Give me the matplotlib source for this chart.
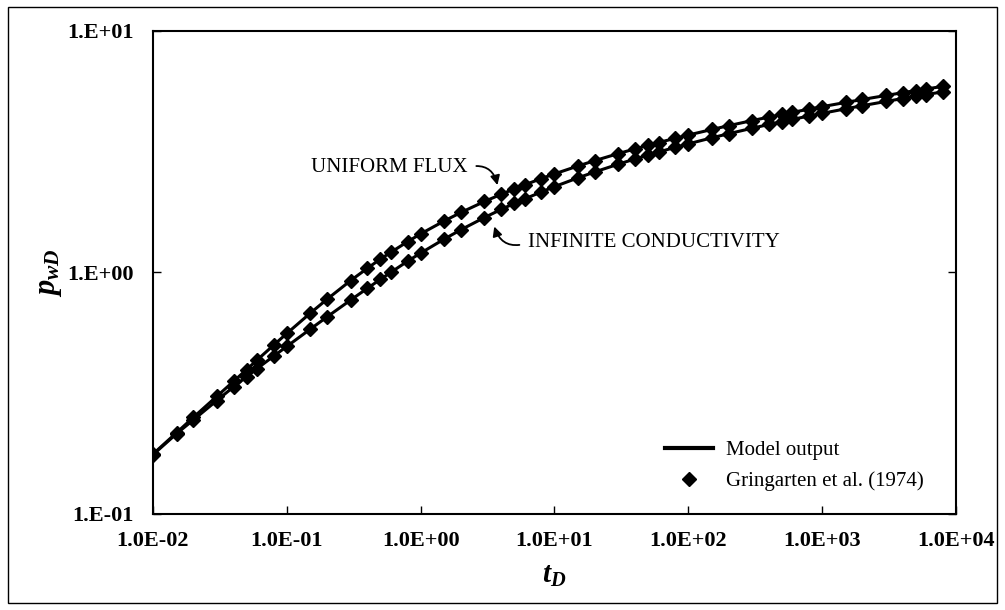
import numpy as np
import matplotlib
matplotlib.use('Agg')
import matplotlib.pyplot as plt
from matplotlib.lines import Line2D
from matplotlib.patches import Rectangle

plt.rcParams['font.family'] = ['Liberation Serif', 'DejaVu Serif']
plt.rcParams['mathtext.fontset'] = 'custom'
plt.rcParams['mathtext.it'] = 'Liberation Serif:italic:bold'
plt.rcParams['mathtext.rm'] = 'Liberation Serif:bold'

# dimensionless time
tD = [0.01, 0.015, 0.02, 0.03, 0.04, 0.05, 0.06, 0.08,
      0.1, 0.15, 0.2, 0.3, 0.4, 0.5, 0.6, 0.8,
      1, 1.5, 2, 3, 4, 5, 6, 8,
      10, 15, 20, 30, 40, 50, 60, 80,
      100, 150, 200, 300, 400, 500, 600, 800,
      1000, 1500, 2000, 3000, 4000, 5000, 6000, 8000]

# uniform flux fracture
pwd_uniform = [0.177, 0.217, 0.251, 0.307, 0.354, 0.396, 0.434, 0.501,
               0.559, 0.679, 0.775, 0.926, 1.041, 1.136, 1.213, 1.342,
               1.445, 1.634, 1.772, 1.968, 2.108, 2.218, 2.307, 2.450,
               2.560, 2.761, 2.905, 3.107, 3.250, 3.361, 3.452, 3.596,
               3.708, 3.910, 4.054, 4.257, 4.400, 4.512, 4.603, 4.747,
               4.859, 5.061, 5.205, 5.408, 5.552, 5.663, 5.754, 5.898]

# infinite conductivity fracture
pwd_infinite = [0.176, 0.215, 0.245, 0.295, 0.336, 0.370, 0.400, 0.451,
                0.494, 0.583, 0.655, 0.769, 0.860, 0.936, 1.002, 1.114,
                1.203, 1.375, 1.503, 1.689, 1.825, 1.931, 2.017, 2.157,
                2.267, 2.466, 2.608, 2.809, 2.952, 3.063, 3.154, 3.298,
                3.409, 3.611, 3.755, 3.957, 4.101, 4.213, 4.304, 4.448,
                4.559, 4.762, 4.906, 5.108, 5.252, 5.364, 5.455, 5.599]

xticks = [1e-2, 1e-1, 1e0, 1e1, 1e2, 1e3, 1e4]
xticklabels = ['1.0E-02', '1.0E-01', '1.0E+00', '1.0E+01', '1.0E+02', '1.0E+03', '1.0E+04']
yticks = [1e-1, 1e0, 1e1]
yticklabels = ['1.E-01', '1.E+00', '1.E+01']

fig = plt.figure(figsize=(10.05, 6.10), dpi=100)
ax = fig.add_axes([0.1522, 0.1574, 0.799, 0.7918])

for p in (pwd_uniform, pwd_infinite):
    ax.plot(tD, p, color='black', lw=2.2, zorder=2)
    ax.plot(tD, p, ls='none', marker='D', ms=7.5, color='black', zorder=3)

ax.set_xscale('log')
ax.set_yscale('log')
ax.set_xlim(1e-2, 1e4)
ax.set_ylim(1e-1, 1e1)
ax.set_xticks(xticks)
ax.set_xticklabels(xticklabels)
ax.set_yticks(yticks)
ax.set_yticklabels(yticklabels)
ax.minorticks_off()
ax.tick_params(axis='both', direction='in', length=6, width=1, labelsize=16)
ax.tick_params(axis='y', right=True, pad=14)
ax.tick_params(axis='x', pad=12)
for lab in ax.get_xticklabels() + ax.get_yticklabels():
    lab.set_fontweight('bold')
for s in ax.spines.values():
    s.set_linewidth(1.5)

ax.set_xlabel(r'$t_D$', fontsize=21, labelpad=9)
ax.set_ylabel(r'$p_{wD}$', fontsize=22, labelpad=2)

ax.annotate('UNIFORM FLUX', xy=(3.75, 2.3), xytext=(2.26, 2.73),
            ha='right', va='center', fontsize=15,
            arrowprops=dict(arrowstyle='-|>', color='black', lw=1.3,
                            mutation_scale=14, shrinkA=4, shrinkB=0,
                            relpos=(1, 0.5), connectionstyle='arc3,rad=-0.5'))
ax.annotate('INFINITE CONDUCTIVITY', xy=(3.55, 1.55), xytext=(6.3, 1.325),
            ha='left', va='center', fontsize=15,
            arrowprops=dict(arrowstyle='-|>', color='black', lw=1.3,
                            mutation_scale=14, shrinkA=4, shrinkB=0,
                            relpos=(0, 0.5), connectionstyle='arc3,rad=-0.5'))

handles = [Line2D([], [], color='black', lw=3),
           Line2D([], [], ls='none', marker='D', ms=7.5, color='black')]
ax.legend(handles, ['Model output', 'Gringarten et al. (1974)'],
          loc='upper left', bbox_to_anchor=(0.6376, 0.152), frameon=False,
          fontsize=15, borderpad=0, borderaxespad=0, handlelength=2.3,
          handletextpad=0.65, labelspacing=0.55)

fig.add_artist(Rectangle((0.008, 0.012), 0.984, 0.976, transform=fig.transFigure,
                         fill=False, lw=1, ec='black'))

fig.savefig('out.png', dpi=100)
